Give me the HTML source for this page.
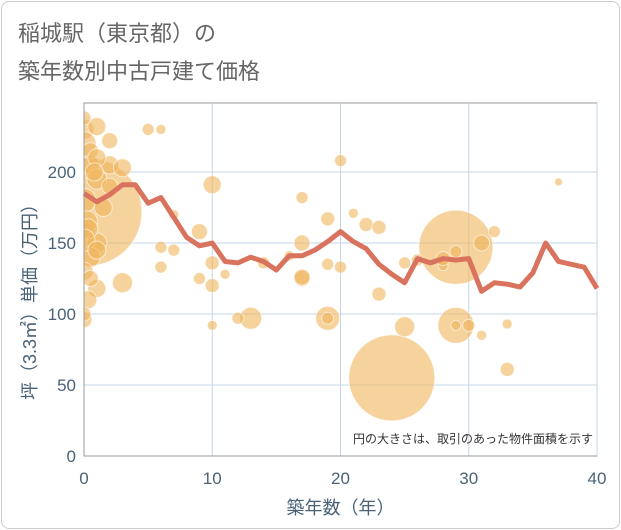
<!DOCTYPE html>
<html><head><meta charset="utf-8"><style>
body{margin:0;background:#fff;}
#card{position:absolute;left:1px;top:1px;width:617px;height:526px;border:1px solid #ccc;border-radius:8px;background:#fff;}
.t{position:absolute;left:18px;font-family:"Liberation Sans","Noto Sans CJK JP",sans-serif;font-size:22px;color:#666;}
svg text{font-family:"Liberation Sans","Noto Sans CJK JP",sans-serif;}
</style></head><body>
<div id="card"></div>
<div class="t" style="top:16px">稲城駅（東京都）の</div>
<div class="t" style="top:54px">築年数別中古戸建て価格</div>
<svg id="c" width="621" height="530" style="position:absolute;left:0;top:0"><defs><clipPath id="pc"><rect x="84" y="103" width="513" height="353"/></clipPath></defs></svg>
<script>
const xTicks=[0,10,20,30,40];
const yTicks=[0,50,100,150,200];
const lineX=[0,1,2,3,4,5,6,7,8,9,10,11,12,13,14,15,16,17,18,19,20,21,22,23,24,25,26,27,28,29,30,31,32,33,34,35,36,37,38,39,40];
const lineY=[185,179,184,191,191,178,182,168,154,148,150,137,136,140,137,131,141,141,145,151,158,151,146,135,128,122,139,136,139,138,139,116,122,121,119,129,150,137,135,133,118];
const bubX=[0.3,24,29,29,19,25,13,3,10,0,0,0.5,1,0,0.2,1,0.5,0,1,0.3,0,1,2,2,3,5,6,6,7,7,6,9,9,10,10,10,11,12,14,16,17,17,17,17,19,19,19,20,20,21,22,23,23,25,26,28,28,29,29,30,31,31,32,33,33,37,0,0.5,1,0.3,1.5,2,0.8,0,0.5,1,0];
const bubY=[172,55,147,92,97,91,97,122,191,230,220,205,195,180,165,150,140,130,118,110,96,232,222,205,203,230,230,147,145,170,133,158,125,120,92,136,128,97,136,141,125,126,150,182,135,167,97,133,208,171,163,114,161,136,138,134,139,144,92,92,150,85,158,93,61,193,238,215,210,160,175,190,200,152,125,145,100];
const bubR=[54,43,37,18,12,10,11,10,9,10,12,9,10,12,11,10,10,9,9,9,8,9,8,9,9,6,5,6,6,5,6,8,6,7,5,7,5,6,6,5,8,8,8,6,6,7,6,6,6,5,7,7,7,6,6,5,7,6,5,6,8,5,6,5,7,4,7,8,9,10,9,8,9,11,8,9,7];
const L=84,R=597,T=103,B=456,xMax=40,yMax=248.6;
const sx=v=>L+v/xMax*(R-L), sy=v=>B-v/yMax*(B-T);
const svg=document.getElementById('c');const NS='http://www.w3.org/2000/svg';
function mk(t,a,p){const e=document.createElementNS(NS,t);for(const k in a)e.setAttribute(k,a[k]);(p||svg).appendChild(e);return e;}
const bg=mk('rect',{x:L,y:T,width:R-L,height:B-T,fill:'#fff',stroke:'#999','stroke-width':1});


xTicks.forEach(v=>{
 const g=mk('line',{x1:sx(v),x2:sx(v),y1:T,y2:B,stroke:'#c5d5e8','stroke-width':1});
 
 
 const t=mk('text',{x:sx(v),y:B+28,'text-anchor':'middle','font-size':17,fill:'#4a6278'});t.textContent=v;
 
 
});
yTicks.forEach(v=>{
 const g=mk('line',{x1:L,x2:R,y1:sy(v),y2:sy(v),stroke:'#c5d5e8','stroke-width':1});
 
 
 const t=mk('text',{x:L-8,y:sy(v)+6,'text-anchor':'end','font-size':17,fill:'#4a6278'});t.textContent=v;
 
 
});
const grp=mk('g',{'clip-path':'url(#pc)'});


bubX.forEach((v,i)=>{
 const c=mk('circle',{cx:sx(v),cy:sy(bubY[i]),r:bubR[i],fill:'rgba(240,180,90,0.6)',stroke:'rgba(255,255,255,0.6)','stroke-width':1},grp);
 
 
});
const pl=mk('polyline',{points:lineX.map((v,i)=>sx(v)+','+sy(lineY[i])).join(' '),fill:'none',stroke:'#d9735e','stroke-width':5,'stroke-linejoin':'round'});


const ax=mk('line',{x1:L,x2:L,y1:T,y2:B,stroke:'#999'});


const ax2=mk('line',{x1:L,x2:R,y1:B,y2:B,stroke:'#999'});


const xt=mk('text',{x:(L+R)/2,y:514,'text-anchor':'middle','font-size':18,fill:'#4a6278'});xt.textContent='築年数（年）';


const yt=mk('text',{x:0,y:0,'text-anchor':'middle','font-size':18,fill:'#4a6278',transform:'translate(36,'+((T+B)/2+18)+') rotate(-90)'});yt.textContent='坪（3.3㎡）単価（万円）';


const an=mk('text',{x:593,y:443,'text-anchor':'end','font-size':12,fill:'#333'});an.textContent='円の大きさは、取引のあった物件面積を示す';


</script>
</body></html>
